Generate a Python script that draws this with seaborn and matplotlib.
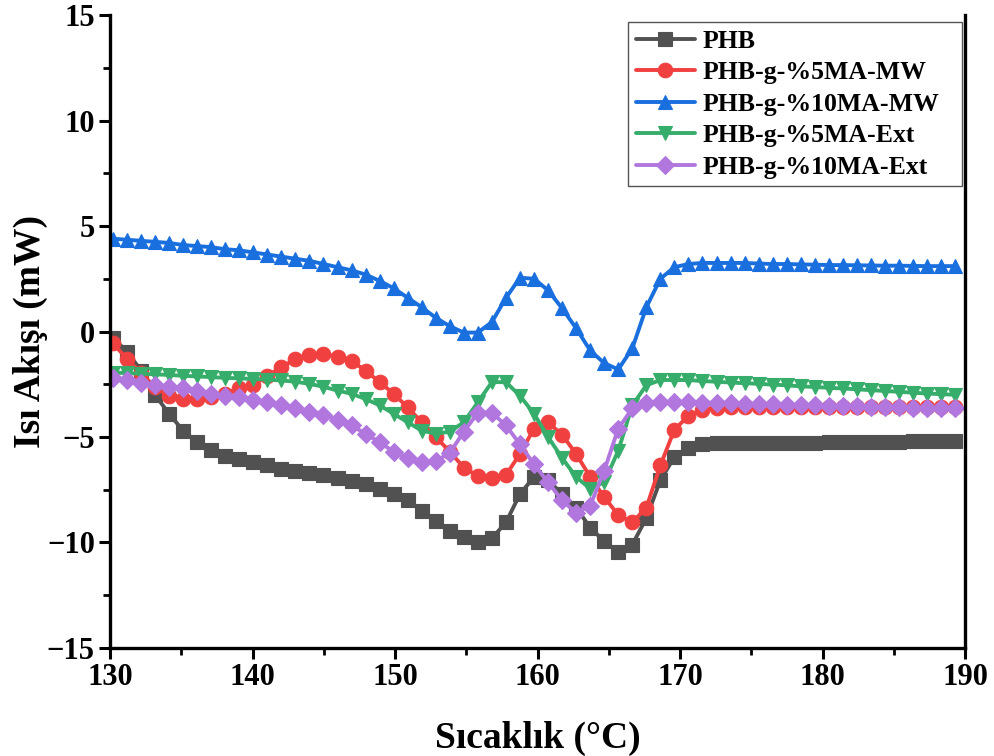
import numpy as np
import pandas as pd
import matplotlib
matplotlib.use("Agg")
import matplotlib.pyplot as plt
import seaborn as sns
from matplotlib.ticker import MultipleLocator

# ---------------- data ----------------
temperature = np.linspace(130.2, 189.3, 61)

phb = [-0.3, -0.95, -1.85, -3.0, -3.9, -4.7, -5.25, -5.6, -5.9, -6.05,
       -6.2, -6.35, -6.5, -6.6, -6.7, -6.8, -6.95, -7.1, -7.25, -7.45,
       -7.7, -8.0, -8.5, -9.0, -9.45, -9.75, -10.0, -9.8, -9.05, -7.7,
       -6.9, -7.05, -7.7, -8.35, -9.3, -9.95, -10.45, -10.1, -8.85, -7.05,
       -5.95, -5.5, -5.35, -5.3, -5.3, -5.3, -5.3, -5.3, -5.3, -5.28,
       -5.27, -5.26, -5.25, -5.25, -5.24, -5.23, -5.22, -5.21, -5.2, -5.2, -5.2]

ma5_mw = [-0.55, -1.3, -1.95, -2.65, -3.05, -3.2, -3.2, -3.1, -2.95, -2.7,
          -2.55, -2.1, -1.7, -1.3, -1.1, -1.05, -1.2, -1.4, -1.85, -2.4,
          -2.95, -3.6, -4.3, -5.0, -5.7, -6.45, -6.85, -6.95, -6.8, -5.8,
          -4.6, -4.3, -4.9, -5.8, -6.9, -7.85, -8.7, -9.05, -8.35, -6.35,
          -4.65, -4.0, -3.7, -3.62, -3.6, -3.6, -3.6, -3.6, -3.6, -3.6,
          -3.6, -3.6, -3.6, -3.6, -3.6, -3.6, -3.6, -3.6, -3.6, -3.6, -3.6]

ma10_mw = [4.4, 4.35, 4.3, 4.25, 4.2, 4.1, 4.05, 4.0, 3.9, 3.85,
           3.75, 3.65, 3.55, 3.45, 3.35, 3.2, 3.05, 2.9, 2.7, 2.4,
           2.05, 1.6, 1.15, 0.65, 0.25, -0.05, -0.05, 0.45, 1.6, 2.55,
           2.5, 1.95, 1.1, 0.15, -0.9, -1.5, -1.8, -0.8, 1.15, 2.5,
           3.05, 3.2, 3.25, 3.25, 3.25, 3.25, 3.22, 3.2, 3.2, 3.18,
           3.17, 3.15, 3.15, 3.14, 3.13, 3.12, 3.12, 3.11, 3.1, 3.1, 3.1]

ma5_ext = [-1.95, -1.97, -2.0, -2.03, -2.06, -2.1, -2.13, -2.16, -2.2, -2.22,
           -2.25, -2.28, -2.32, -2.38, -2.48, -2.62, -2.8, -2.95, -3.2, -3.5,
           -3.9, -4.3, -4.7, -4.85, -4.75, -4.3, -3.35, -2.4, -2.4, -3.05,
           -3.9, -5.0, -6.0, -6.9, -7.45, -7.15, -5.65, -3.5, -2.55, -2.3,
           -2.3, -2.3, -2.35, -2.38, -2.42, -2.45, -2.48, -2.52, -2.55, -2.6,
           -2.63, -2.67, -2.7, -2.74, -2.78, -2.82, -2.86, -2.9, -2.94, -2.97, -3.0]

ma10_ext = [-2.2, -2.3, -2.45, -2.55, -2.65, -2.7, -2.8, -2.95, -3.05, -3.1,
            -3.25, -3.35, -3.5, -3.65, -3.8, -3.95, -4.2, -4.45, -4.85, -5.25,
            -5.7, -6.0, -6.2, -6.15, -5.75, -4.75, -3.85, -3.85, -4.45, -5.35,
            -6.3, -7.15, -8.0, -8.6, -8.25, -6.6, -4.6, -3.65, -3.4, -3.35,
            -3.35, -3.35, -3.37, -3.38, -3.4, -3.42, -3.43, -3.45, -3.47, -3.48,
            -3.5, -3.52, -3.53, -3.55, -3.57, -3.58, -3.6, -3.61, -3.62, -3.64, -3.65]

series_names = ["PHB", "PHB-g-%5MA-MW", "PHB-g-%10MA-MW",
                "PHB-g-%5MA-Ext", "PHB-g-%10MA-Ext"]
series_values = [phb, ma5_mw, ma10_mw, ma5_ext, ma10_ext]
colors = ["#515151", "#F14040", "#1A6FDF", "#37AD6B", "#B177DE"]
markers = ["s", "o", "^", "v", "D"]
marker_sizes = [9.5, 10.5, 10.5, 10.5, 9.0]

x_ticks = [130, 140, 150, 160, 170, 180, 190]
y_ticks = [-15, -10, -5, 0, 5, 10, 15]

# ---------------- figure ----------------
sns.set_theme(style="white")
plt.rcParams["font.family"] = ["Liberation Serif", "DejaVu Serif"]
plt.rcParams["font.weight"] = "bold"
plt.rcParams["mathtext.default"] = "regular"

fig = plt.figure(figsize=(9.95, 7.56), dpi=100)
ax = fig.add_axes([0.1106, 0.143, 0.8594, 0.837])

for name, vals, c, m, ms in zip(series_names, series_values, colors, markers, marker_sizes):
    df = pd.DataFrame({"T": temperature, "Q": vals})
    sns.lineplot(data=df, x="T", y="Q", ax=ax, color=c, marker=m, markersize=ms,
                 markeredgecolor=c, markeredgewidth=0.8, linewidth=2.8,
                 label=name, clip_on=True)

ax.set_xlim(130, 190)
ax.set_ylim(-15, 15)
ax.set_xticks(x_ticks)
ax.set_yticks(y_ticks)
ax.xaxis.set_minor_locator(MultipleLocator(5))
ax.yaxis.set_minor_locator(MultipleLocator(2.5))

for side in ["left", "bottom", "right"]:
    ax.spines[side].set_visible(True)
    ax.spines[side].set_color("black")
    ax.spines[side].set_linewidth(2.4)
ax.spines["top"].set_visible(False)

ax.tick_params(axis="both", which="major", direction="out", length=8, width=2.2,
               color="black", labelsize=22, labelcolor="black", left=True, bottom=True,
               right=False, top=False, pad=3)
ax.tick_params(axis="both", which="minor", direction="out", length=5, width=2.0,
               color="black", left=True, bottom=True, right=False, top=False)
for lab in ax.get_xticklabels() + ax.get_yticklabels():
    lab.set_fontweight("bold")

ax.set_xlabel("Sıcaklık (°C)", fontsize=27, fontweight="bold", color="black")
ax.set_ylabel("Isı Akışı (mW)", fontsize=27, fontweight="bold", color="black")
ax.xaxis.set_label_coords(0.5, -0.115)
ax.yaxis.set_label_coords(-0.072, 0.5)

leg = ax.legend(loc="upper left", bbox_to_anchor=(0.606, 0.5, 0.3906, 0.489),
                mode="expand", frameon=True, fancybox=False, edgecolor="#555555",
                handlelength=2.3, handletextpad=0.3, labelspacing=0.33,
                borderpad=0.3, borderaxespad=0.0, prop={"weight": "bold", "size": 18.5})
leg.get_frame().set_linewidth(1.0)
leg.get_frame().set_facecolor("white")
leg.get_frame().set_alpha(1.0)
for t in leg.get_texts():
    t.set_color("black")

fig.savefig("out.png", dpi=100, facecolor="white")
